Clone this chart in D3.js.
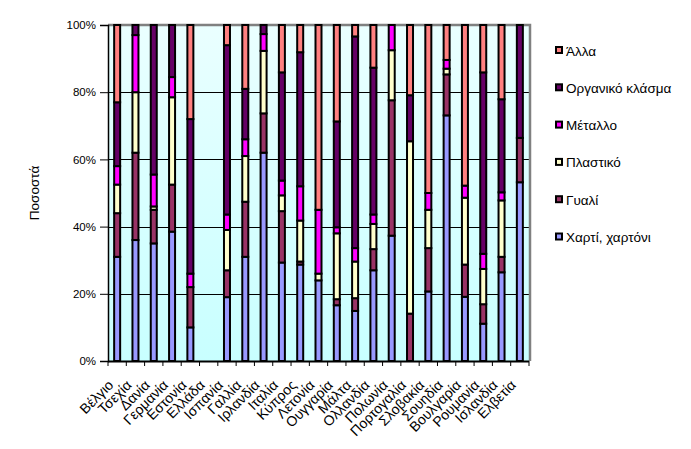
<!DOCTYPE html>
<html><head><meta charset="utf-8">
<script src="https://cdn.jsdelivr.net/npm/d3@7"></script>
<style>body{margin:0;background:#fff;} svg{display:block;font-family:"Liberation Sans",Arial,sans-serif;}</style>
</head><body>
<svg id="c" width="691" height="449"></svg>
<script>
const countries = ["Βέλγιο","Τσεχία","Δανία","Γερμανία","Εστονία","Ελλάδα","Ισπανία","Γαλλία","Ιρλανδία","Ιταλία","Κύπρος","Λετονία","Ουγγαρία","Μάλτα","Ολλανδία","Πολωνία","Πορτογαλία","Σλοβακία","Σουηδία","Βουλγαρία","Ρουμανία","Ισλανδία","Ελβετία"];
const paper   = [31,36,35,38.5,10,0,19,31,62,29.3,28.7,24,16.6,14.9,27,37.3,0,20.7,73.1,19.1,11.1,26.4,53.2];
const glass   = [13,26,10,14,12,0,8,16.4,11.7,15.3,0.9,0,1.8,3.8,6.3,40.3,14.1,12.9,12.2,9.6,5.8,4.6,13.2];
const plastic = [8.5,18,1,26,0,0,12,13.6,18.6,4.7,12.2,2,19.6,10.9,7.5,14.9,51.3,11.4,1.7,19.9,10.5,16.8,0];
const metal   = [5.5,17,9.5,6,4,0,4.6,5,5,4.4,10.2,19,1.8,4,2.8,7.5,0,5,2.6,3.6,4.5,2.4,0];
const organic = [19,3,44.5,15.5,46,0,50.4,15,2.7,32.2,39.9,0,31.5,63,43.7,0,13.7,0,0,0,54,27.7,33.6];
const other   = [23,0,0,0,28,0,6,19,0,14.1,8.1,55,28.7,3.4,12.7,0,20.9,50,10.4,47.8,14.1,22.1,0];
const seriesNames = ["Χαρτί, χαρτόνι","Γυαλί","Πλαστικό","Μέταλλο","Οργανικό κλάσμα","Άλλα"];
const seriesColors = ["#9999ff","#993366","#ffffcc","#ff00ff","#660066","#ff8080"];
const yTicks = [0,20,40,60,80,100];
const yTitle = "Ποσοστά";

const seriesData = [paper,glass,plastic,metal,organic,other];
const rows = countries.map((c,i)=>{const r={country:c}; seriesNames.forEach((s,k)=>r[s]=seriesData[k][i]); return r;});
const stacked = d3.stack().keys(seriesNames)(rows);

const svg = d3.select("#c");
const L=108, R=529, T=25, B=361;
const x = d3.scaleBand().domain(countries).range([L,R]);
const y = d3.scaleLinear().domain([0,100]).range([B,T]);

const defs = svg.append("defs");
const g = defs.append("linearGradient").attr("id","bg").attr("x1",0).attr("y1",0).attr("x2",0).attr("y2",1);
g.append("stop").attr("offset","0%").attr("stop-color","#eaffff");
g.append("stop").attr("offset","100%").attr("stop-color","#c8ffff");
svg.append("rect").attr("x",L).attr("y",T).attr("width",R-L).attr("height",B-T).attr("fill","url(#bg)");

// gridlines
svg.append("g").selectAll("line").data(yTicks.filter(t=>t>0&&t<100)).join("line")
  .attr("x1",L).attr("x2",R).attr("y1",d=>Math.round(y(d))+0.5).attr("y2",d=>Math.round(y(d))+0.5)
  .attr("stroke","#000").attr("stroke-width",1);

// plot border (top/right gray)
svg.append("path").attr("d",`M${L},${T} H${R+1} V${B}`).attr("fill","none").attr("stroke","#808080").attr("stroke-width",2.5);

// bars
const bw = 6;
svg.append("g").selectAll("g").data(stacked).join("g")
  .attr("fill",(d,i)=>seriesColors[i])
  .selectAll("rect").data(d=>d.filter(s=>s[1]-s[0]>0)).join("rect")
  .attr("x",d=>x(d.data.country)+x.bandwidth()/2-bw/2)
  .attr("width",bw)
  .attr("y",d=>y(d[1]))
  .attr("height",d=>y(d[0])-y(d[1]))
  .attr("stroke","#000").attr("stroke-width",2);

// y axis
const yAxis = d3.axisLeft(y).tickValues(yTicks).tickFormat(d=>d+"%").tickSize(8).tickPadding(4);
const ya = svg.append("g").attr("transform",`translate(${L},0)`).call(yAxis);
ya.select(".domain").attr("stroke","#000").attr("stroke-width",1.5);
ya.selectAll("text").attr("font-size",11.5).attr("fill","#000").attr("font-family","Liberation Sans, Arial, sans-serif");

// x axis
const xa = svg.append("g").attr("transform",`translate(0,${B})`);
xa.append("line").attr("x1",L).attr("x2",R).attr("y1",0.5).attr("y2",0.5).attr("stroke","#000").attr("stroke-width",2);
xa.selectAll("line.tk").data(d3.range(countries.length+1)).join("line").attr("class","tk")
  .attr("x1",i=>L+i*x.step()).attr("x2",i=>L+i*x.step()).attr("y1",0).attr("y2",5).attr("stroke","#000");
xa.selectAll("text").data(countries).join("text")
  .attr("transform",d=>`translate(${x(d)+x.bandwidth()/2-3},${25}) rotate(-45)`)
  .attr("text-anchor","end").attr("font-size",14).attr("fill","#000").text(d=>d);

// y title
svg.append("text").attr("transform",`translate(39,${(T+B)/2}) rotate(-90)`).attr("text-anchor","middle")
  .attr("font-size",13.5).text(yTitle);

// legend
const legOrder = seriesNames.map((n,i)=>i).reverse();
const lg = svg.append("g").selectAll("g").data(legOrder).join("g")
  .attr("transform",(d,j)=>`translate(555,${51+j*37.3})`);
lg.append("rect").attr("x",1).attr("y",-4).attr("width",6).attr("height",6).attr("fill",d=>seriesColors[d]).attr("stroke","#000").attr("stroke-width",2);
lg.append("text").attr("x",11).attr("y",4.5).attr("font-size",13.5).text(d=>seriesNames[d]);
</script>
</body></html>
